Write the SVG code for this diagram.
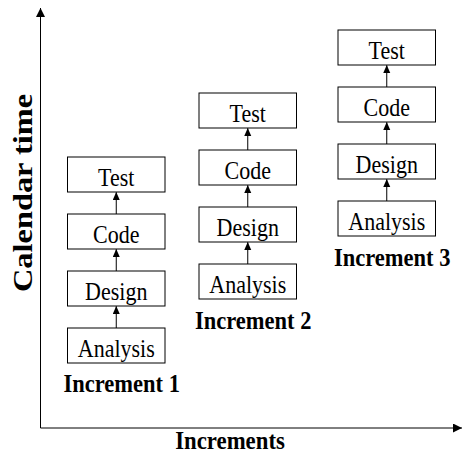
<svg xmlns="http://www.w3.org/2000/svg" width="463" height="454" viewBox="0 0 463 454">
<style>
.box{fill:#fff;stroke:#000;stroke-width:1}
.lbl{font-family:"Liberation Serif","Times New Roman",serif;font-size:22px;fill:#000;text-anchor:middle}
.inc{font-family:"Liberation Serif","Times New Roman",serif;font-size:22.5px;font-weight:bold;fill:#000}
.ax{font-family:"Liberation Serif","Times New Roman",serif;font-weight:bold;fill:#000;text-anchor:middle}
.ln{stroke:#000;stroke-width:1;fill:none}
</style>
<defs>
<marker id="ah" markerUnits="userSpaceOnUse" markerWidth="7" markerHeight="8" refX="8" refY="3.5" orient="auto"><path d="M0,0 L8,3.5 L0,7 z" fill="#000"/></marker>
<marker id="aa" markerUnits="userSpaceOnUse" markerWidth="9" markerHeight="9" refX="9" refY="4.5" orient="auto"><path d="M0,0 L9,4.5 L0,9 z" fill="#000"/></marker>
</defs>
<g id="axes">
<line class="ln" x1="40.5" y1="428" x2="40.5" y2="8" marker-end="url(#aa)"/>
<line class="ln" x1="40.5" y1="428" x2="462" y2="428" marker-end="url(#aa)"/>
<text class="ax" font-size="22.8" transform="translate(230,449) scale(1,1.15)">Increments</text>
<text class="ax" font-size="27" textLength="198" lengthAdjust="spacingAndGlyphs" transform="translate(32,193) rotate(-90)">Calendar time</text>
</g>
<g id="connectors">
<line class="ln" x1="116.25" y1="328" x2="116.25" y2="306" marker-end="url(#ah)"/>
<line class="ln" x1="116.25" y1="271" x2="116.25" y2="249" marker-end="url(#ah)"/>
<line class="ln" x1="116.25" y1="214" x2="116.25" y2="192" marker-end="url(#ah)"/>
<line class="ln" x1="247.75" y1="264" x2="247.75" y2="242" marker-end="url(#ah)"/>
<line class="ln" x1="247.75" y1="207" x2="247.75" y2="185" marker-end="url(#ah)"/>
<line class="ln" x1="247.75" y1="150" x2="247.75" y2="128" marker-end="url(#ah)"/>
<line class="ln" x1="386.75" y1="201" x2="386.75" y2="179" marker-end="url(#ah)"/>
<line class="ln" x1="386.75" y1="144" x2="386.75" y2="122" marker-end="url(#ah)"/>
<line class="ln" x1="386.75" y1="87" x2="386.75" y2="65" marker-end="url(#ah)"/>
</g>
<g id="inc1">
<g id="inc1-test"><rect class="box" x="67.5" y="157" width="97.5" height="35"/><text class="lbl" transform="translate(116.25,186) scale(1,1.15)">Test</text></g>
<g id="inc1-code"><rect class="box" x="67.5" y="214" width="97.5" height="35"/><text class="lbl" transform="translate(116.25,243) scale(1,1.15)">Code</text></g>
<g id="inc1-design"><rect class="box" x="67.5" y="271" width="97.5" height="35"/><text class="lbl" transform="translate(116.25,300) scale(1,1.15)">Design</text></g>
<g id="inc1-analysis"><rect class="box" x="67.5" y="328" width="97.5" height="35"/><text class="lbl" transform="translate(116.25,357) scale(1,1.15)">Analysis</text></g>
<text class="inc" transform="translate(63.5,392) scale(1,1.15)">Increment 1</text>
</g>
<g id="inc2">
<g id="inc2-test"><rect class="box" x="199" y="93" width="97.5" height="35"/><text class="lbl" transform="translate(247.75,122) scale(1,1.15)">Test</text></g>
<g id="inc2-code"><rect class="box" x="199" y="150" width="97.5" height="35"/><text class="lbl" transform="translate(247.75,179) scale(1,1.15)">Code</text></g>
<g id="inc2-design"><rect class="box" x="199" y="207" width="97.5" height="35"/><text class="lbl" transform="translate(247.75,236) scale(1,1.15)">Design</text></g>
<g id="inc2-analysis"><rect class="box" x="199" y="264" width="97.5" height="35"/><text class="lbl" transform="translate(247.75,293) scale(1,1.15)">Analysis</text></g>
<text class="inc" transform="translate(195,329) scale(1,1.15)">Increment 2</text>
</g>
<g id="inc3">
<g id="inc3-test"><rect class="box" x="338" y="30" width="97.5" height="35"/><text class="lbl" transform="translate(386.75,59) scale(1,1.15)">Test</text></g>
<g id="inc3-code"><rect class="box" x="338" y="87" width="97.5" height="35"/><text class="lbl" transform="translate(386.75,116) scale(1,1.15)">Code</text></g>
<g id="inc3-design"><rect class="box" x="338" y="144" width="97.5" height="35"/><text class="lbl" transform="translate(386.75,173) scale(1,1.15)">Design</text></g>
<g id="inc3-analysis"><rect class="box" x="338" y="201" width="97.5" height="35"/><text class="lbl" transform="translate(386.75,230) scale(1,1.15)">Analysis</text></g>
<text class="inc" transform="translate(334,266) scale(1,1.15)">Increment 3</text>
</g>
</svg>
